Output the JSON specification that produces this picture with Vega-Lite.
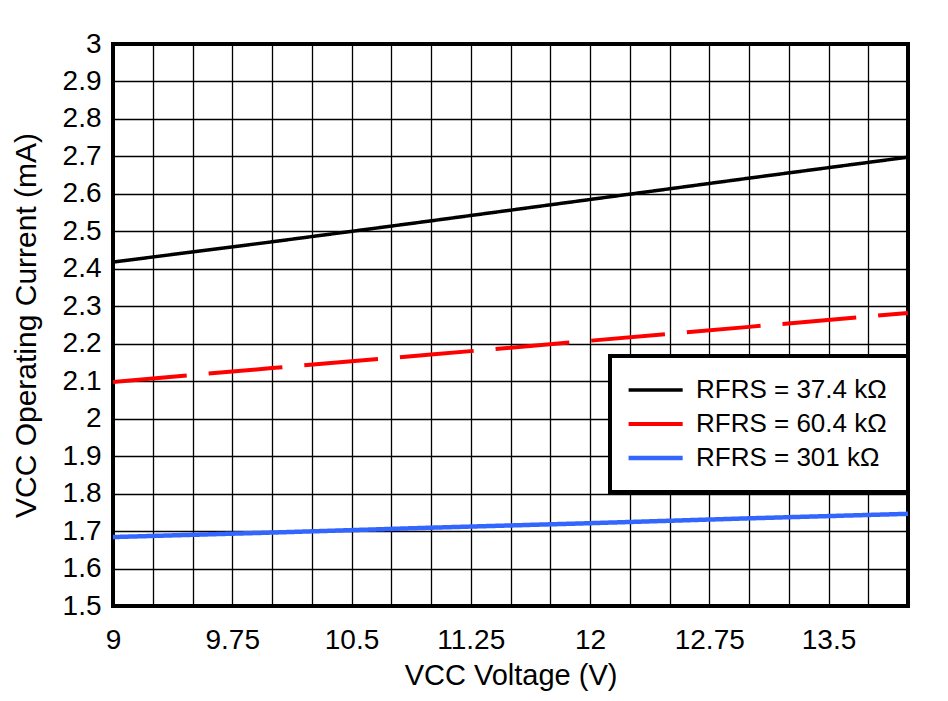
{
  "$schema": "https://vega.github.io/schema/vega-lite/v6.json",
  "autosize": "none",
  "width": 795,
  "height": 562,
  "padding": {"left": 113, "top": 44, "right": 40, "bottom": 95},
  "background": "white",
  "config": {
    "font": "Liberation Sans",
    "view": {"stroke": "black", "strokeWidth": 4},
    "axis": {
      "domain": false,
      "ticks": false,
      "grid": true,
      "gridColor": "black",
      "gridWidth": 1.3,
      "gridOpacity": 1,
      "labelFont": "Liberation Sans",
      "labelFontSize": 28,
      "labelColor": "black",
      "titleFont": "Liberation Sans",
      "titleFontWeight": "normal",
      "titleColor": "black"
    },
    "legend": {
      "labelFont": "Liberation Sans",
      "labelFontSize": 26,
      "labelColor": "black",
      "labelLimit": 0
    }
  },
  "data": {
    "values": [
      {"v": 9, "i": 2.418, "s": "37.4"},
      {"v": 10, "i": 2.472, "s": "37.4"},
      {"v": 11, "i": 2.528, "s": "37.4"},
      {"v": 12, "i": 2.585, "s": "37.4"},
      {"v": 13, "i": 2.642, "s": "37.4"},
      {"v": 14, "i": 2.698, "s": "37.4"},
      {"v": 9, "i": 2.098, "s": "60.4"},
      {"v": 10, "i": 2.135, "s": "60.4"},
      {"v": 11, "i": 2.171, "s": "60.4"},
      {"v": 12, "i": 2.208, "s": "60.4"},
      {"v": 13, "i": 2.245, "s": "60.4"},
      {"v": 14, "i": 2.282, "s": "60.4"},
      {"v": 9, "i": 1.684, "s": "301"},
      {"v": 10, "i": 1.696, "s": "301"},
      {"v": 11, "i": 1.709, "s": "301"},
      {"v": 12, "i": 1.721, "s": "301"},
      {"v": 13, "i": 1.734, "s": "301"},
      {"v": 14, "i": 1.746, "s": "301"}
    ]
  },
  "mark": {"type": "line", "clip": true},
  "encoding": {
    "x": {
      "field": "v",
      "type": "quantitative",
      "title": "VCC Voltage (V)",
      "scale": {"domain": [9, 14], "nice": false, "zero": false},
      "axis": {
        "values": [9, 9.25, 9.5, 9.75, 10, 10.25, 10.5, 10.75, 11, 11.25, 11.5, 11.75, 12, 12.25, 12.5, 12.75, 13, 13.25, 13.5, 13.75, 14],
        "format": ".2~f",
        "labelExpr": "abs((datum.value - 9) / 0.75 - round((datum.value - 9) / 0.75)) < 0.01 && datum.value < 13.9 ? datum.label : ''",
        "labelPadding": 20,
        "labelFlush": false,
        "labelOverlap": false,
        "titleFontSize": 29,
        "titlePadding": 7
      }
    },
    "y": {
      "field": "i",
      "type": "quantitative",
      "title": "VCC Operating Current (mA)",
      "scale": {"domain": [1.5, 3], "nice": false, "zero": false},
      "axis": {
        "values": [1.5, 1.6, 1.7, 1.8, 1.9, 2, 2.1, 2.2, 2.3, 2.4, 2.5, 2.6, 2.7, 2.8, 2.9, 3],
        "format": ".1~f",
        "labelPadding": 12,
        "labelFlush": false,
        "labelOverlap": false,
        "titleFontSize": 30,
        "titlePadding": 21
      }
    },
    "color": {
      "field": "s",
      "type": "nominal",
      "scale": {"domain": ["37.4", "60.4", "301"], "range": ["#000000", "#FF0000", "#3366FF"]},
      "legend": {
        "orient": "none",
        "legendX": 497,
        "legendY": 312,
        "title": null,
        "labelExpr": "'RFRS = ' + datum.label + ' kΩ'",
        "symbolType": "M-2.85,0H7.15",
        "symbolSize": 117,
        "strokeColor": "black",
        "fillColor": "white",
        "padding": 21,
        "rowPadding": 8,
        "labelOffset": 39,
        "encode": {"legend": {"update": {"strokeWidth": {"value": 4}}}}
      }
    },
    "strokeWidth": {
      "field": "s",
      "type": "nominal",
      "scale": {"domain": ["37.4", "60.4", "301"], "range": [3.5, 4.5, 7]}
    },
    "strokeDash": {
      "field": "s",
      "type": "nominal",
      "scale": {"domain": ["37.4", "60.4", "301"], "range": [[1, 0], [74, 22], [1, 0]]}
    }
  }
}
